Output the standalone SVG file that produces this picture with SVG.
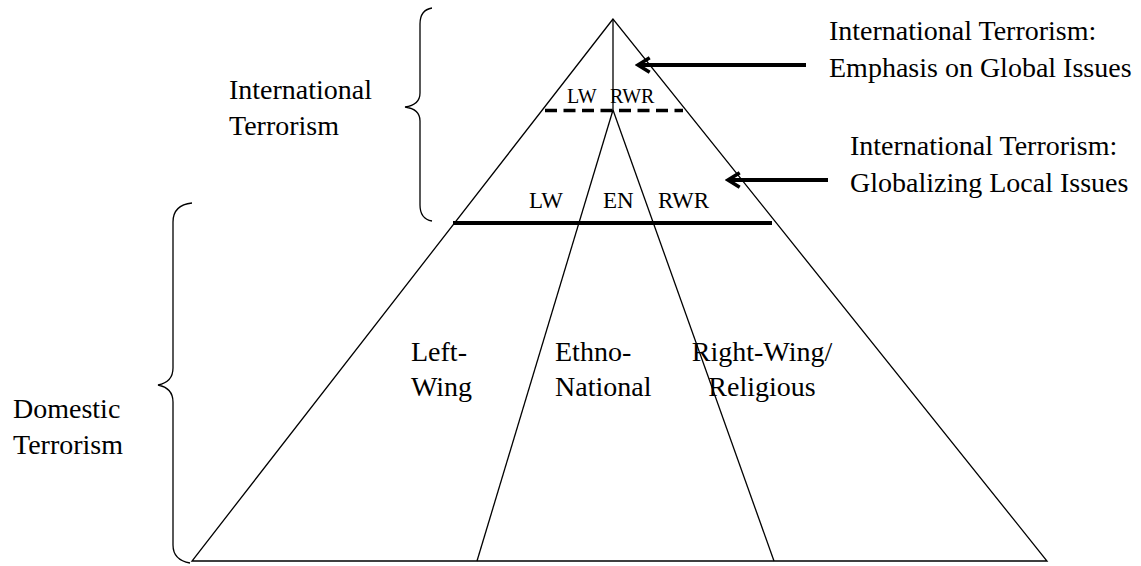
<svg xmlns="http://www.w3.org/2000/svg" width="1141" height="566" viewBox="0 0 1141 566">
<style>
.t{font-family:"Liberation Serif","Times New Roman",serif;fill:#000;}
.big{font-size:28px;}
.mid{font-size:23px;}
.sm{font-size:20px;}
.ln{stroke:#000;stroke-width:1.3;fill:none;}
.br{stroke:#000;stroke-width:1.3;fill:none;}
.arr{stroke:#000;stroke-width:4;fill:none;}
</style>
<defs>
<marker id="ah" viewBox="0 0 10 10" refX="8.5" refY="5" markerWidth="4.5" markerHeight="4.5" orient="auto" markerUnits="strokeWidth">
<path d="M2,1 L8.5,5 L2,9" fill="none" stroke="#000" stroke-width="2"/>
</marker>
</defs>
<rect width="1141" height="566" fill="#fff"/>
<g id="pyramid">
<path class="ln" d="M613,19 L192,561 L1047,561 Z"/>
<line class="ln" x1="613" y1="19" x2="613" y2="110"/>
<line class="ln" x1="613" y1="110" x2="477" y2="561"/>
<line class="ln" x1="613" y1="110" x2="774" y2="561"/>
<line x1="545" y1="110.5" x2="683" y2="110.5" stroke="#000" stroke-width="3.5" stroke-dasharray="12,6.5"/>
<line x1="453" y1="223" x2="772" y2="223" stroke="#000" stroke-width="4"/>
</g>
<g id="top-labels">
<text class="t sm" x="567" y="103">LW</text>
<text class="t sm" x="610" y="103">RWR</text>
</g>
<g id="mid-labels">
<text class="t mid" x="529" y="208">LW</text>
<text class="t mid" x="603" y="208">EN</text>
<text class="t mid" x="658" y="208">RWR</text>
</g>
<g id="left-wing"><text class="t big" x="411" y="361">Left-</text><text class="t big" x="411" y="396">Wing</text></g>
<g id="ethno"><text class="t big" x="555" y="361">Ethno-</text><text class="t big" x="555" y="396">National</text></g>
<g id="right-wing"><text class="t big" x="762" y="361" text-anchor="middle">Right-Wing/</text><text class="t big" x="762" y="396" text-anchor="middle">Religious</text></g>
<g id="intl-label"><text class="t big" x="229" y="99">International</text><text class="t big" x="229" y="135">Terrorism</text></g>
<g id="dom-label"><text class="t big" x="13" y="418">Domestic</text><text class="t big" x="13" y="454">Terrorism</text></g>
<g id="intl-global"><text class="t big" x="829" y="40">International Terrorism:</text><text class="t big" x="829" y="77">Emphasis on Global Issues</text></g>
<g id="intl-local"><text class="t big" x="850" y="155">International Terrorism:</text><text class="t big" x="850" y="192">Globalizing Local Issues</text></g>
<g id="braces">
<path class="br" d="M432,8 Q420,10 420,24 L420,93 Q420,105 405,107 Q420,109 420,121 L420,205 Q420,219 432,221"/>
<path class="br" d="M192,203 Q173,205 173,222 L173,368 Q173,382 158,385 Q173,388 173,402 L173,545 Q173,560 190,563"/>
</g>
<g id="connectors">
<line class="arr" x1="806" y1="65" x2="638" y2="65" marker-end="url(#ah)"/>
<line class="arr" x1="828" y1="180" x2="728" y2="180" marker-end="url(#ah)"/>
</g>
</svg>
